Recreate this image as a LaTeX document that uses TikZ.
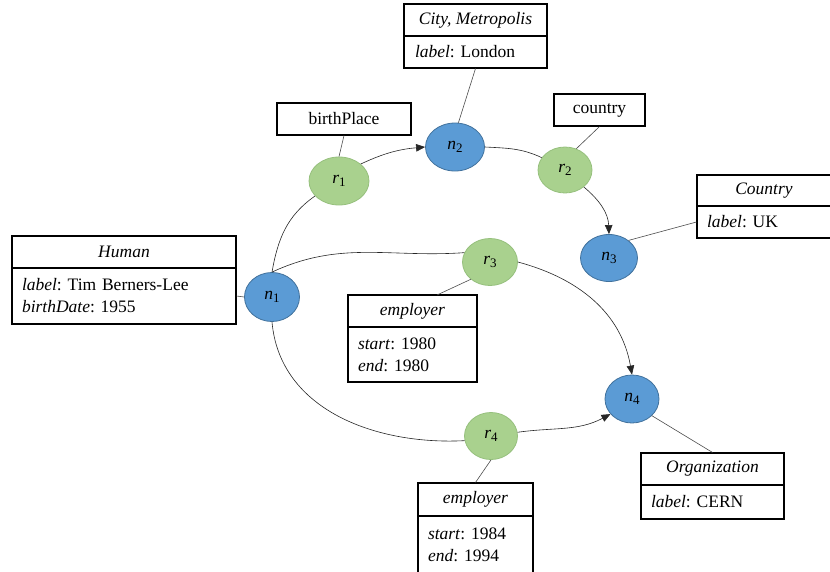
\documentclass[tikz,border=0pt]{standalone}
\usepackage{fontspec}
\setmainfont{Liberation Serif}
\usetikzlibrary{shapes.geometric,arrows.meta}
\definecolor{nblue}{RGB}{91,155,213}
\definecolor{nblueb}{RGB}{65,113,156}
\definecolor{rgreen}{RGB}{169,209,142}
\definecolor{rgreenb}{RGB}{150,192,125}
\newcommand{\vlab}[2]{\textit{#1}\raisebox{-0.4ex}{\fontsize{13}{13}\selectfont #2}}
\frenchspacing
\begin{document}
\begin{tikzpicture}[x=1pt,y=-1pt,
  font=\fontsize{17.5}{22}\selectfont,
  ent/.style={ellipse, draw=nblueb, fill=nblue, line width=0.8pt, inner sep=0},
  rel/.style={ellipse, draw=rgreenb, fill=rgreen, line width=0.8pt, inner sep=0},
  tbox/.style={draw, line width=1.1pt, rectangle, inner sep=0, fill=white},
  bbox/.style={draw, line width=1.1pt, rectangle, align=left, inner xsep=10, inner ysep=0, fill=white},
  con/.style={line width=0.6pt, draw=black!85},
  arr/.style={con, -{Triangle[length=9pt,width=7.5pt]}},
  lnk/.style={line width=0.6pt, draw=black!70}]
\useasboundingbox (0,0) rectangle (830,571);

% entity and relation ellipses
\node[ent, minimum width=55, minimum height=49] (n1) at (272,297) {\vlab{n}{1}};
\node[ent, minimum width=59, minimum height=48] (n2) at (455,147) {\vlab{n}{2}};
\node[ent, minimum width=57, minimum height=47] (n3) at (609,258) {\vlab{n}{3}};
\node[ent, minimum width=54, minimum height=48] (n4) at (632,399) {\vlab{n}{4}};
\node[rel, minimum width=60, minimum height=48] (r1) at (339,181) {\vlab{r}{1}};
\node[rel, minimum width=54, minimum height=46] (r2) at (565,170) {\vlab{r}{2}};
\node[rel, minimum width=55, minimum height=47] (r3) at (490,262) {\vlab{r}{3}};
\node[rel, minimum width=53, minimum height=47] (r4) at (491,436) {\vlab{r}{4}};

% boxes
\node[tbox, minimum width=224, minimum height=32] (humT) at (124,252) {\textit{Human}};
\node[bbox, text width=204, minimum height=56] (humB) at (124,296) {\textit{label}: Tim Berners-Lee\\\textit{birthDate}: 1955};

\node[tbox, minimum width=143, minimum height=32] (cityT) at (475.5,20) {\textit{City, Metropolis}};
\node[bbox, inner xsep=11, text width=121, minimum height=32] (cityB) at (475.5,52) {\textit{label}: London};

\node[tbox, minimum width=134, minimum height=32] (bp) at (344,119) {birthPlace};
\node[tbox, minimum width=91, minimum height=32] (ctry) at (599.5,110) {country};

\node[tbox, minimum width=134, minimum height=31] (cntT) at (764,190.5) {\textit{Country}};
\node[bbox, text width=114, minimum height=32] (cntB) at (764,222) {\textit{label}: UK};

\node[tbox, minimum width=129, minimum height=32] (e1T) at (412.5,311) {\textit{employer}};
\node[bbox, text width=109, minimum height=55] (e1B) at (412.5,354.5) {\textit{start}: 1980\\\textit{end}: 1980};

\node[tbox, minimum width=115, minimum height=33] (e2T) at (475.5,499.5) {\textit{employer}};
\node[bbox, text width=95, minimum height=57] (e2B) at (475.5,544.5) {\textit{start}: 1984\\\textit{end}: 1994};

\node[tbox, minimum width=143, minimum height=32] (orgT) at (712.5,469) {\textit{Organization}};
\node[bbox, text width=123, minimum height=34] (orgB) at (712.5,502) {\textit{label}: CERN};

\coordinate (e1top) at (437,295);

% graph edges
\draw[con] (n1.north) to[out=80,in=215] (r1.212);
\draw[arr] (r1.38) to[out=25,in=185] (n2.west);
\draw[con] (n2.east) to[out=-3,in=155] (r2.152);
\draw[arr] (r2.-42) to[out=-40,in=92] (n3.north);
\draw[con] (n1.north) to[out=25,in=184] (r3.160);
\draw[arr] (r3.east) to[out=-15,in=100] (n4.north);
\draw[con] (n1.south) to[out=-85,in=183] (r4.190);
\draw[arr] (r4.8) to[out=8,in=208] (n4.215);

% attribute links
\draw[lnk] (humB.east) -- (n1.west);
\draw[lnk] (n2.82) -- (cityB.south);
\draw[lnk] (r1.north) -- (bp.south);
\draw[lnk] (r2.62) -- (ctry.south);
\draw[lnk] (n3.42) -- (cntB.west);
\draw[lnk] (r3.222) -- (e1top);
\draw[lnk] (r4.south) -- (e2T.north);
\draw[lnk] (n4.-40) -- (orgT.north);
\end{tikzpicture}
\end{document}
